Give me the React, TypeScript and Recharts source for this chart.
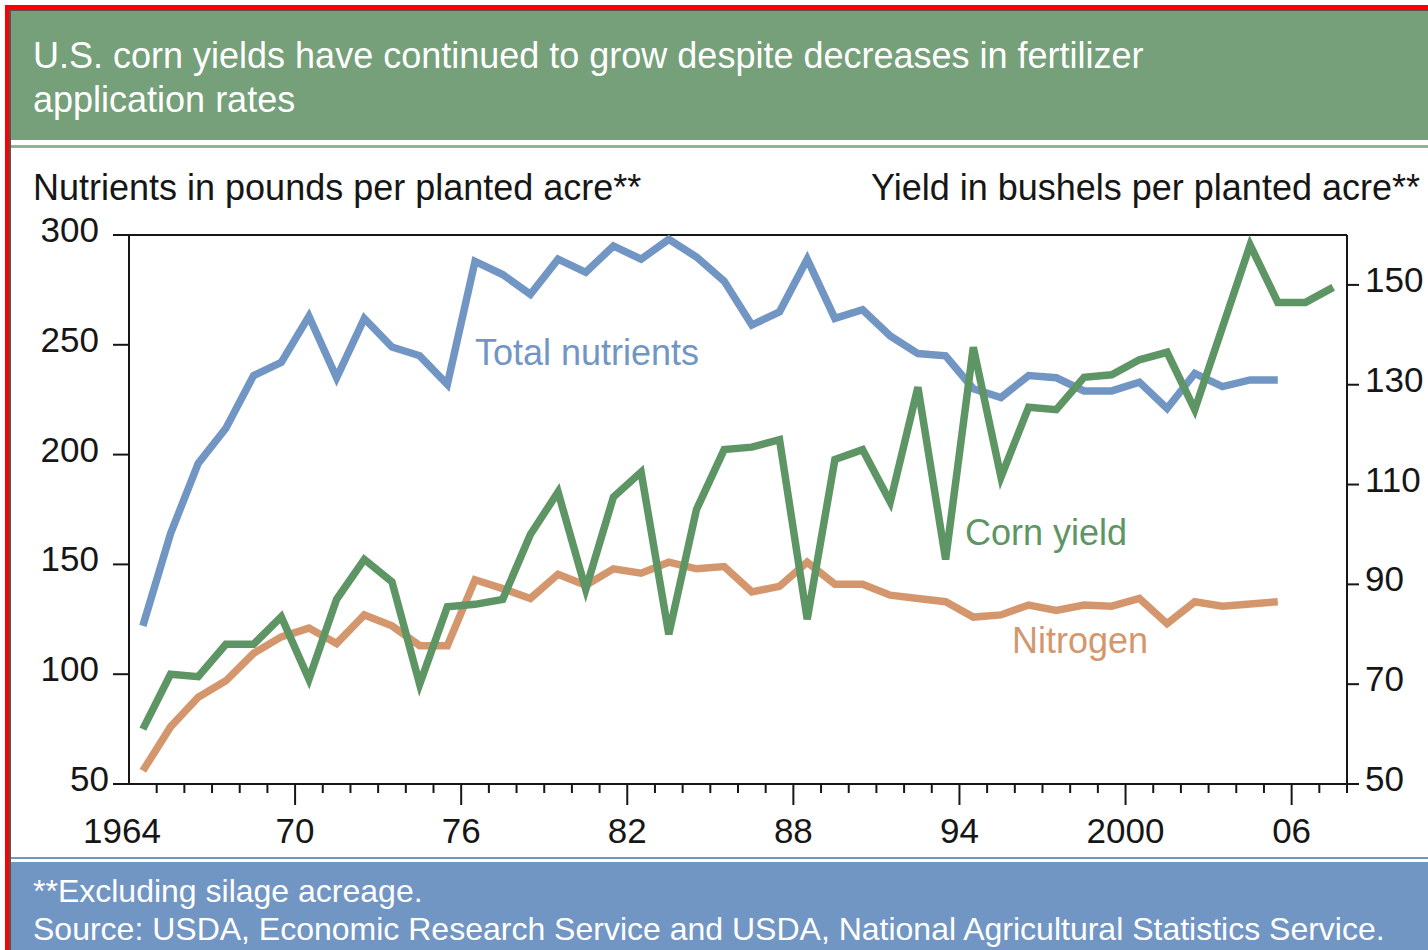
import React from 'react'
import { LineChart, Line, XAxis, YAxis, ReferenceLine } from 'recharts'

const years = [
  1964, 1965, 1966, 1967, 1968, 1969, 1970, 1971, 1972, 1973, 1974,
  1975, 1976, 1977, 1978, 1979, 1980, 1981, 1982, 1983, 1984, 1985,
  1986, 1987, 1988, 1989, 1990, 1991, 1992, 1993, 1994, 1995, 1996,
  1997, 1998, 1999, 2000, 2001, 2002, 2003, 2004, 2005, 2006, 2007,
]

// pounds per planted acre, 1964-2005
const totalNutrients = [
  122, 164, 196, 212, 236, 242, 263, 235, 262, 249, 245,
  232, 288, 282, 273, 289, 283, 295, 289, 298, 290, 279,
  259, 265, 289, 262, 266, 254, 246, 245, 230, 226, 236,
  235, 229, 229, 233, 221, 237, 231, 234, 234,
]

const nitrogen = [
  56, 76, 89.5, 97, 109.5, 117, 121, 114, 127, 122, 113,
  113, 143, 139, 134.5, 145.5, 140.5, 148, 146, 151, 148, 149,
  137.5, 140, 151, 141, 141, 136, 134.5, 133, 126, 127, 131.5,
  129, 131.5, 131, 134.5, 123, 133, 131, 132, 133,
]

// bushels per planted acre, 1964-2007
const cornYield = [
  61, 72, 71.5, 78, 78, 83.5, 71, 87, 95, 90.5, 70,
  85.5, 86, 87, 100, 108.5, 89, 107.5, 112.5, 80, 105, 117,
  117.5, 119, 83, 115, 117, 106.5, 129.5, 95, 137.5, 111.5, 125.5,
  125, 131.5, 132, 135, 136.5, 125, 141.5, 158, 146.5, 146.5, 149.5,
]

const xTicks = [
  1964, 1965, 1966, 1967, 1968, 1969, 1970, 1971, 1972, 1973, 1974,
  1975, 1976, 1977, 1978, 1979, 1980, 1981, 1982, 1983, 1984, 1985,
  1986, 1987, 1988, 1989, 1990, 1991, 1992, 1993, 1994, 1995, 1996,
  1997, 1998, 1999, 2000, 2001, 2002, 2003, 2004, 2005, 2006, 2007, 2008,
]
const majorYears = [1964, 1970, 1976, 1982, 1988, 1994, 2000, 2006]
const yearLabels = ['1964', '70', '76', '82', '88', '94', '2000', '06']
const leftTicks = [50, 100, 150, 200, 250, 300]
const rightTicks = [50, 70, 90, 110, 130, 150]

const BLUE = '#7296c4'
const GREEN = '#5e9565'
const ORANGE = '#d4976d'
const HEADER = '#76a07a'
const FONT = '"Liberation Sans", Arial, Helvetica, sans-serif'
const INK = '#161616'

// points sit in the middle of each year interval
const data = years.map((yr, i) => ({
  x: yr + 0.5,
  total: totalNutrients[i],
  nitrogen: nitrogen[i],
  corn: cornYield[i],
}))

function YearTick(props: any) {
  const { x, y, payload } = props
  const yr = payload.value
  const idx = majorYears.indexOf(yr)
  return (
    <g>
      {yr !== 1964 && (
        <line x1={x} x2={x} y1={y} y2={y + (idx >= 0 ? 21 : 9)} stroke={INK} strokeWidth={2} />
      )}
      {idx >= 0 && (
        <text x={yr === 1964 ? x - 7 : x} y={y + 59} textAnchor="middle" fontSize={35} fill={INK} fontFamily={FONT}>
          {yearLabels[idx]}
        </text>
      )}
    </g>
  )
}

function LeftTick(props: any) {
  const { x, y, payload } = props
  // the bottom label is nudged right in the original
  const dx = payload.value === 50 ? 10 : 0
  return (
    <text x={x + dx} y={y + 7} textAnchor="end" fontSize={35} fill={INK} fontFamily={FONT}>
      {payload.value}
    </text>
  )
}

function RightTick(props: any) {
  const { x, y, payload } = props
  return (
    <text x={x} y={y + 7} textAnchor="start" fontSize={35} fill={INK} fontFamily={FONT}>
      {payload.value}
    </text>
  )
}

export default function App() {
  return (
    <div style={{ position: 'absolute', left: 0, top: 0, width: 1428, height: 950, overflow: 'hidden', background: '#fff', fontFamily: FONT }}>
      <svg width={1428} height={950} style={{ position: 'absolute', left: 0, top: 0 }}>
        {/* frame */}
        <rect x={5} y={5} width={1423} height={5} fill="#f00" />
        <rect x={5} y={5} width={4} height={945} fill="#f00" />
        <rect x={9} y={10} width={2} height={940} fill="#555" />
        <rect x={9} y={10} width={1419} height={1} fill="#555" />
        {/* header */}
        <rect x={11} y={11} width={1417} height={129} fill={HEADER} />
        <rect x={11} y={145} width={1417} height={3} fill="#8fb593" />
        <text x={33} y={68} fontSize={36} fill="#fff" fontFamily={FONT}>
          U.S. corn yields have continued to grow despite decreases in fertilizer
        </text>
        <text x={33} y={112} fontSize={36} fill="#fff" fontFamily={FONT}>
          application rates
        </text>
        {/* axis titles */}
        <text x={33} y={200} fontSize={36} fill={INK} fontFamily={FONT}>
          Nutrients in pounds per planted acre**
        </text>
        <text x={1420} y={200} fontSize={36} fill={INK} fontFamily={FONT} textAnchor="end">
          Yield in bushels per planted acre**
        </text>
        {/* series labels */}
        <text x={475} y={365} fontSize={36} fill={BLUE} fontFamily={FONT}>Total nutrients</text>
        <text x={965} y={545} fontSize={36} fill={GREEN} fontFamily={FONT}>Corn yield</text>
        <text x={1012} y={653} fontSize={36} fill={ORANGE} fontFamily={FONT}>Nitrogen</text>
        {/* footer */}
        <rect x={11} y={857} width={1417} height={2} fill={BLUE} />
        <rect x={11} y={862} width={1417} height={88} fill={BLUE} />
        <text x={33} y={902} fontSize={32} fill="#fff" fontFamily={FONT}>**Excluding silage acreage.</text>
        <text x={33} y={940} fontSize={32} fill="#fff" fontFamily={FONT}>
          Source: USDA, Economic Research Service and USDA, National Agricultural Statistics Service.
        </text>
      </svg>

      <div style={{ position: 'absolute', left: 0, top: 200 }}>
        <LineChart width={1428} height={660} data={data} margin={{ top: 35, right: 0, bottom: 0, left: 0 }}>
          <XAxis
            dataKey="x"
            type="number"
            domain={[1964, 2008]}
            ticks={xTicks}
            interval={0}
            height={76}
            tickSize={0}
            tickMargin={0}
            tickLine={false}
            axisLine={{ stroke: INK, strokeWidth: 2 }}
            tick={<YearTick />}
          />
          <YAxis
            yAxisId="left"
            orientation="left"
            domain={[50, 300]}
            ticks={leftTicks}
            interval={0}
            width={129}
            tickSize={16}
            tickMargin={14}
            tickLine={{ stroke: INK, strokeWidth: 2 }}
            axisLine={{ stroke: INK, strokeWidth: 2 }}
            tick={<LeftTick />}
          />
          <YAxis
            yAxisId="right"
            orientation="right"
            domain={[50, 160]}
            ticks={rightTicks}
            interval={0}
            width={81}
            tickSize={12}
            tickMargin={6}
            tickLine={{ stroke: INK, strokeWidth: 2 }}
            axisLine={{ stroke: INK, strokeWidth: 2 }}
            tick={<RightTick />}
          />
          <ReferenceLine yAxisId="left" y={300} stroke={INK} strokeWidth={2} />
          <Line yAxisId="left" type="linear" dataKey="total" stroke={BLUE} strokeWidth={7.5} dot={false} isAnimationActive={false} />
          <Line yAxisId="left" type="linear" dataKey="nitrogen" stroke={ORANGE} strokeWidth={7.5} dot={false} isAnimationActive={false} />
          <Line yAxisId="right" type="linear" dataKey="corn" stroke={GREEN} strokeWidth={7.5} dot={false} isAnimationActive={false} />
        </LineChart>
      </div>
    </div>
  )
}
